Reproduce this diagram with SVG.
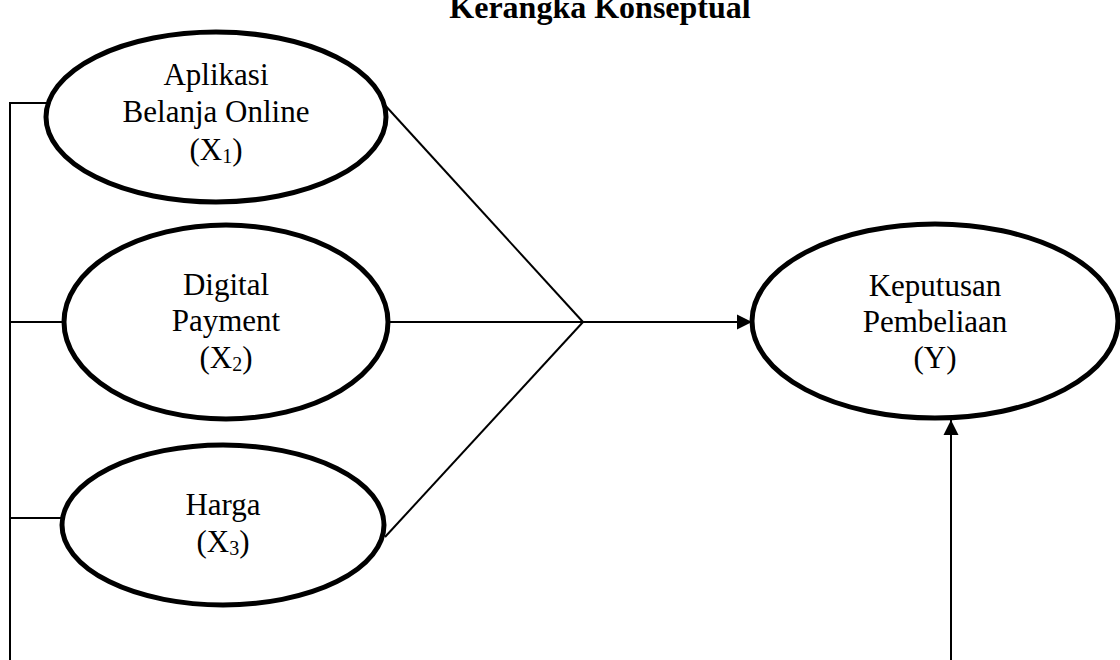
<svg xmlns="http://www.w3.org/2000/svg" width="1120" height="660" viewBox="0 0 1120 660">
<style>
.node{fill:#fff;stroke:#000;stroke-width:5}
.lbl{font-family:"Liberation Serif","Times New Roman",serif;font-size:31px;fill:#000;text-anchor:middle}
.sub{font-size:20px}
.con{fill:none;stroke:#000;stroke-width:2}
.title{font-family:"Liberation Serif","Times New Roman",serif;font-size:32px;font-weight:bold;fill:#000;text-anchor:middle}
</style>
<defs>
<marker id="arr" markerWidth="16" markerHeight="16" refX="15" refY="8" orient="auto" markerUnits="userSpaceOnUse">
<path d="M0,0.5 L15,8 L0,15.5 Z" fill="#000"/>
</marker>
</defs>
<rect width="1120" height="660" fill="#fff"/>
<text class="title" x="600" y="18">Kerangka Konseptual</text>
<g id="connectors">
<polyline class="con" points="48,103 10,103 10,660"/>
<line class="con" x1="10" y1="322" x2="64" y2="322"/>
<line class="con" x1="10" y1="518" x2="64" y2="518"/>
<line class="con" x1="383" y1="103" x2="583" y2="322"/>
<line class="con" x1="385" y1="537" x2="583" y2="322"/>
<line class="con" x1="388" y1="322" x2="752" y2="322" marker-end="url(#arr)"/>
<line class="con" x1="951" y1="660" x2="951" y2="420" marker-end="url(#arr)"/>
</g>
<g id="x1">
<ellipse class="node" cx="216" cy="117" rx="170" ry="85"/>
<text class="lbl" x="216" y="85">Aplikasi</text>
<text class="lbl" x="216" y="122">Belanja Online</text>
<text class="lbl" x="216" y="160">(X<tspan class="sub" dy="3">1</tspan><tspan dy="-3">)</tspan></text>
</g>
<g id="x2">
<ellipse class="node" cx="226" cy="322" rx="162" ry="97"/>
<text class="lbl" x="226" y="295">Digital</text>
<text class="lbl" x="226" y="331">Payment</text>
<text class="lbl" x="226" y="368">(X<tspan class="sub" dy="3">2</tspan><tspan dy="-3">)</tspan></text>
</g>
<g id="x3">
<ellipse class="node" cx="223" cy="525" rx="161" ry="80"/>
<text class="lbl" x="223" y="515">Harga</text>
<text class="lbl" x="223" y="552">(X<tspan class="sub" dy="3">3</tspan><tspan dy="-3">)</tspan></text>
</g>
<g id="y">
<ellipse class="node" cx="935" cy="321" rx="183" ry="97"/>
<text class="lbl" x="935" y="296">Keputusan</text>
<text class="lbl" x="935" y="332">Pembeliaan</text>
<text class="lbl" x="935" y="368">(Y)</text>
</g>
</svg>
